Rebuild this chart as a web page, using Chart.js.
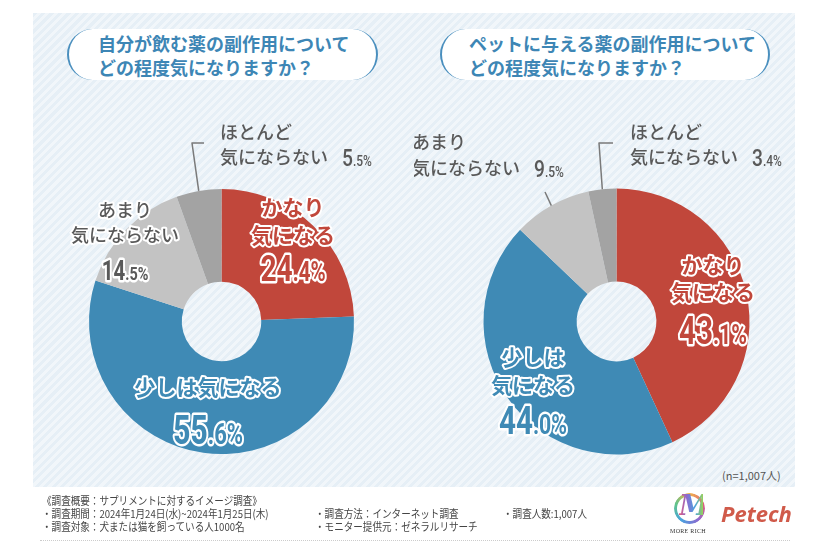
<!DOCTYPE html>
<html lang="ja">
<head>
<meta charset="utf-8">
<script src="https://cdn.jsdelivr.net/npm/chart.js@4.4.1/dist/chart.umd.min.js"></script>
<style>
  body { margin: 0; width: 828px; height: 542px; background: #fff; position: relative; overflow: hidden;
         font-family: "Noto Sans CJK JP", "Noto Sans", sans-serif; }
  #panel { position: absolute; left: 33px; top: 13px; width: 762px; height: 474px;
           background: repeating-linear-gradient(135deg, #e6eff6 0px, #e6eff6 3px, #f1f6fa 3px, #f1f6fa 6px); }
  .pill { position: absolute; top: 29px; height: 51px; background: #fff; border-radius: 26px;
          border-left: 2.5px solid #4a8fbe; border-right: 2.5px solid #4a8fbe; box-sizing: border-box; }
  .title { position: absolute; font-weight: 700; font-size: 18px; line-height: 24px; color: #3d86b5; white-space: nowrap; }
  canvas { position: absolute; top: 0; }
  #nnote { position: absolute; left: 722px; top: 467px; font-size: 11px; color: #555; }
  .foot { position: absolute; font-size: 11px; color: #444; white-space: nowrap; transform: scaleX(0.87); transform-origin: left center; line-height: 13px; }
  #dots { position: absolute; left: 40px; top: 540px; width: 750px; border-top: 1px dotted #ccc; }
  #mlogo { position: absolute; left: 674px; top: 493px; width: 31px; height: 31px; border-radius: 50%;
           background: conic-gradient(#f0b24a, #e25c7c, #8a6bd0, #4aa3df, #5fc48a, #f0b24a);
           -webkit-mask: radial-gradient(circle, transparent 12px, #000 13px); }
  #mletter { position: absolute; left: 679px; top: 490px; width: 24px; text-align: center; font: italic 700 27px "DejaVu Serif", serif;
             background: linear-gradient(90deg, #e25c7c, #8a6bd0, #4aa3df, #9bd05a); -webkit-background-clip: text; color: transparent; }
  #mtext { position: absolute; left: 670px; top: 528px; font: 6px "Liberation Serif", serif; color: #333; letter-spacing: 0.3px; }
  #petech { position: absolute; left: 721px; top: 498px; font: italic 700 22px "Open Sans", sans-serif; color: #d05a4a; }
</style>
</head>
<body>
<div id="panel"></div>
<div class="pill" style="left:67px; width:311px;"></div>
<div class="pill" style="left:440px; width:330px;"></div>
<div class="title" id="t1" style="left:98px; top:31px;"></div>
<div class="title" id="t2" style="left:469px; top:31px;"></div>
<div id="nnote">(n=1,007人)</div>

<canvas id="self" width="414" height="542" style="left:0px;"></canvas>
<canvas id="pet" width="414" height="542" style="left:414px;"></canvas>

<div class="foot" style="left:42px; top:494px;">《調査概要：サプリメントに対するイメージ調査》</div>
<div class="foot" style="left:42px; top:507px;">・調査期間：2024年1月24日(水)~2024年1月25日(木)</div>
<div class="foot" style="left:42px; top:520px;">・調査対象：犬または猫を飼っている人1000名</div>
<div class="foot" style="left:315px; top:507px;">・調査方法：インターネット調査</div>
<div class="foot" style="left:315px; top:520px;">・モニター提供元：ゼネラルリサーチ</div>
<div class="foot" style="left:503px; top:507px;">・調査人数:1,007人</div>
<div id="dots"></div>
<div id="mlogo"></div>
<div id="mletter">M</div>
<div id="mtext">MORE RICH</div>
<div id="petech">Petech</div>

<script>
const labelHead = ['かなり', '少しは', 'あまり', 'ほとんど'];
const labelTail = ['気になる', '気になる', '気にならない', '気にならない'];
const categories = labelHead.map((h, i) => h + labelTail[i]);
const selfValues = [24.4, 55.6, 14.5, 5.5];
const petValues = [43.1, 44.0, 9.5, 3.4];
const titleSelf = ['自分が飲む薬の副作用について', 'どの程度気になりますか？'];
const titlePet = ['ペットに与える薬の副作用について', 'どの程度気になりますか？'];

const sliceColors = ['#c1473b', '#3f8ab5', '#c3c3c3', '#a3a3a3'];
const grayText = '#595959';

document.getElementById('t1').innerHTML = titleSelf.join('<br>');
document.getElementById('t2').innerHTML = titlePet.join('<br>');

// label placement, page coordinates
const selfLayout = [
    {mode: 'in', x: 293, ys: [207, 235], py: 268, ps: 37, size: 21, color: sliceColors[0]},
    {mode: 'in', x: 208, ys: [387], py: 430, ps: 40, size: 21, color: sliceColors[1], oneLine: true},
    {mode: 'in', x: 125, ys: [210, 235], py: 270, ps: 27, size: 18, color: grayText, weight: 500},
    {mode: 'out', x: 220, ys: [132, 157], ps: 24, leader: [[192, 143], [204, 143]]}
];
const petLayout = [
    {mode: 'in', x: 713, ys: [265, 292], py: 330, ps: 39, size: 21, color: sliceColors[0]},
    {mode: 'in', x: 533, ys: [357, 385], py: 420, ps: 39, size: 21, color: sliceColors[1]},
    {mode: 'out', x: 412, ys: [142, 168], ps: 24, leader: [[545, 192]]},
    {mode: 'out', x: 630, ys: [132, 157], ps: 24, leader: [[599, 143], [613, 143]]}
];

function drawPct(ctx, x, y, value, big, align, fill, stroke) {
    const s = value.toFixed(1);
    const dot = s.indexOf('.');
    const a = s.slice(0, dot), b = s.slice(dot) + '%';
    const small = Math.round(big * (stroke ? 0.72 : 0.62));
    const sx = stroke ? 0.76 : 0.8;
    const weight = stroke ? 700 : 500;
    ctx.font = `${weight} ${big}px Roboto`;
    const wa = ctx.measureText(a).width;
    ctx.font = `${weight} ${small}px Roboto`;
    const wb = ctx.measureText(b).width;
    const total = (wa + wb) * sx;
    let x0 = align === 'center' ? x - total / 2 : x;
    const base = y + big * 0.36;
    ctx.save();
    ctx.translate(x0, base);
    ctx.scale(sx, 1);
    ctx.textAlign = 'left';
    ctx.textBaseline = 'alphabetic';
    ctx.lineJoin = 'round';
    const parts = [[a, big, 0], [b, small, wa]];
    if (stroke) {
        ctx.strokeStyle = stroke;
        ctx.lineWidth = 5;
        parts.forEach(p => { ctx.font = `${weight} ${p[1]}px Roboto`; ctx.strokeText(p[0], p[2], 0); });
    }
    ctx.fillStyle = fill;
    parts.forEach(p => { ctx.font = `${weight} ${p[1]}px Roboto`; ctx.fillText(p[0], p[2], 0); });
    ctx.restore();
}

function labelPlugin(layout) {
    return {
        id: 'sliceLabels',
        afterDraw(chart) {
            const ctx = chart.ctx;
            const offX = chart.canvas.offsetLeft;
            const meta = chart.getDatasetMeta(0);
            const values = chart.data.datasets[0].data;
            ctx.save();
            layout.forEach((lay, i) => {
                const lines = lay.oneLine ? [labelHead[i] + labelTail[i]] : [labelHead[i], labelTail[i]];
                if (lay.mode === 'in') {
                    ctx.font = `${lay.weight || 700} ${lay.size}px "Noto Sans CJK JP"`;
                    ctx.textAlign = 'center';
                    ctx.textBaseline = 'middle';
                    ctx.lineJoin = 'round';
                    ctx.strokeStyle = '#fff';
                    ctx.lineWidth = 4;
                    ctx.fillStyle = lay.color;
                    lines.forEach((t, k) => {
                        ctx.strokeText(t, lay.x - offX, lay.ys[k]);
                        ctx.fillText(t, lay.x - offX, lay.ys[k]);
                    });
                    drawPct(ctx, lay.x - offX, lay.py, values[i], lay.ps, 'center', lay.color, '#fff');
                } else {
                    const arc = meta.data[i];
                    const mid = (arc.startAngle + arc.endAngle) / 2;
                    ctx.beginPath();
                    ctx.moveTo(arc.x + Math.cos(mid) * arc.outerRadius, arc.y + Math.sin(mid) * arc.outerRadius);
                    lay.leader.forEach(p => ctx.lineTo(p[0] - offX, p[1]));
                    ctx.strokeStyle = '#7a7a7a';
                    ctx.lineWidth = 1.5;
                    ctx.stroke();
                    ctx.font = `500 18px "Noto Sans CJK JP"`;
                    ctx.textAlign = 'left';
                    ctx.textBaseline = 'middle';
                    ctx.fillStyle = grayText;
                    lines.forEach((t, k) => ctx.fillText(t, lay.x - offX, lay.ys[k]));
                    const w = ctx.measureText(lines[1]).width;
                    drawPct(ctx, lay.x - offX + w + 14, lay.ys[1], values[i], lay.ps, 'left', grayText, null);
                }
            });
            ctx.restore();
        }
    };
}

function makeChart(id, values, layout, pad) {
    return new Chart(document.getElementById(id), {
        type: 'doughnut',
        data: {
            labels: categories,
            datasets: [{
                data: values,
                backgroundColor: sliceColors,
                borderWidth: 0
            }]
        },
        options: {
            responsive: false,
            animation: false,
            cutout: '30%',
            layout: {padding: pad},
            plugins: {
                legend: {display: false},
                tooltip: {enabled: false}
            }
        },
        plugins: [labelPlugin(layout)]
    });
}

makeChart('self', selfValues, selfLayout, {left: 89, right: 60, top: 189, bottom: 88});
makeChart('pet', petValues, petLayout, {left: 69.5, right: 78.5, top: 188.5, bottom: 87.5});
</script>
</body>
</html>
